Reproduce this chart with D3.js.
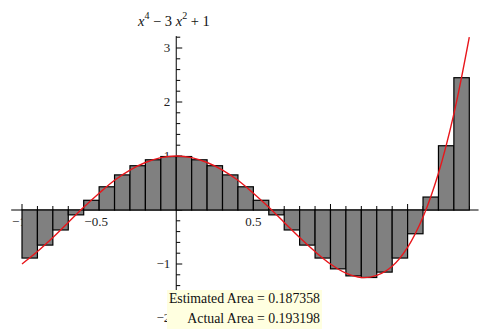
<!DOCTYPE html>
<html>
<head>
<meta charset="utf-8">
<script src="https://cdn.jsdelivr.net/npm/d3@7"></script>
<style>
  body { margin: 0; background: #fff; }
  svg { display: block; }
  text { font-family: "Liberation Serif", "DejaVu Serif", serif; }
</style>
</head>
<body>
<div id="chart"></div>
<script>
// left edge of each rectangle (width 0.1) and its height
const barLeft = [-1, -0.9, -0.8, -0.7, -0.6, -0.5, -0.4, -0.3, -0.2, -0.1,
  0, 0.1, 0.2, 0.3, 0.4, 0.5, 0.6, 0.7, 0.8, 0.9,
  1, 1.1, 1.2, 1.3, 1.4, 1.5, 1.6, 1.7, 1.8];
const barHeight = [-0.89, -0.65, -0.37, -0.09, 0.18, 0.43, 0.65, 0.82, 0.93, 0.99,
  0.99, 0.93, 0.82, 0.65, 0.43, 0.18, -0.09, -0.37, -0.65, -0.89,
  -1.09, -1.22, -1.25, -1.15, -0.89, -0.44, 0.24, 1.19, 2.45];
const barWidth = 0.1;

// red curve sampled along x
const curveX = [-1, -0.9, -0.8, -0.7, -0.6, -0.5, -0.4, -0.3, -0.2, -0.1,
  0, 0.1, 0.2, 0.3, 0.4, 0.5, 0.6, 0.7, 0.8, 0.9,
  1, 1.1, 1.2, 1.3, 1.4, 1.5, 1.6, 1.7, 1.8, 1.9];
const curveY = [-1, -0.77, -0.51, -0.23, 0.05, 0.31, 0.55, 0.74, 0.88, 0.97,
  1, 0.97, 0.88, 0.74, 0.55, 0.31, 0.05, -0.23, -0.51, -0.77,
  -1, -1.17, -1.25, -1.21, -1.04, -0.69, -0.13, 0.68, 1.78, 3.2];

const xTickLabels = [-1, -0.5, 0.5, 1, 1.5];
const yTickLabels = [-2, -1, 1, 2, 3];
const areaLines = ["Estimated Area = 0.187358", "Actual Area = 0.193198"];

const width = 486, height = 329;

const x = d3.scaleLinear().domain([-1, 1.9]).range([22, 469.3]);
const y = d3.scaleLinear().domain([0, 1]).range([210, 156]);

const svg = d3.select('#chart').append('svg')
  .attr('width', width)
  .attr('height', height);

const fmt = d => (d < 0 ? '\u2212' : '') + Math.abs(d);

// tick labels go first so the bars can cover some of them, like the original
svg.append('g').selectAll('text')
  .data(xTickLabels)
  .join('text')
  .attr('x', d => x(d) + (d < 0 ? -3 : 0))
  .attr('y', y(0) + 16)
  .attr('text-anchor', 'middle')
  .attr('font-size', 13)
  .attr('fill', '#222')
  .text(fmt);

svg.append('g').selectAll('text')
  .data(yTickLabels)
  .join('text')
  .attr('x', x(0) - 6)
  .attr('y', d => y(d) + 4)
  .attr('text-anchor', 'end')
  .attr('font-size', 13)
  .attr('fill', '#222')
  .text(fmt);

// axes with Mathematica-style inward ticks
const axes = svg.append('g').attr('stroke', '#000');
axes.append('line')
  .attr('x1', x(-1.07)).attr('x2', x(1.96))
  .attr('y1', y(0)).attr('y2', y(0));
axes.append('line')
  .attr('x1', x(0)).attr('x2', x(0))
  .attr('y1', y(3.22)).attr('y2', y(-2.15));

const xt = d3.range(-10, 20).map(i => i / 10);
axes.selectAll('.xt')
  .data(xt)
  .join('line')
  .attr('x1', d => x(d)).attr('x2', d => x(d))
  .attr('y1', y(0))
  .attr('y2', d => y(0) - (Math.round(d * 10) % 5 === 0 ? 6 : 4));

const yt = d3.range(-10, 17).map(i => i / 5);
axes.selectAll('.yt')
  .data(yt)
  .join('line')
  .attr('x1', x(0))
  .attr('x2', d => x(0) + (Math.round(d * 5) % 5 === 0 ? 6 : 4))
  .attr('y1', d => y(d)).attr('y2', d => y(d));

// rectangles
svg.append('g').selectAll('rect')
  .data(barLeft.map((l, i) => ({ l, h: barHeight[i] })))
  .join('rect')
  .attr('x', d => x(d.l))
  .attr('width', d => x(d.l + barWidth) - x(d.l))
  .attr('y', d => Math.min(y(0), y(d.h)))
  .attr('height', d => Math.abs(y(d.h) - y(0)))
  .attr('fill', '#808080')
  .attr('stroke', '#000')
  .attr('stroke-width', 1.2);

// the function itself
const line = d3.line()
  .x(d => x(d[0]))
  .y(d => y(d[1]))
  .curve(d3.curveCatmullRom);

svg.append('path')
  .datum(curveX.map((v, i) => [v, curveY[i]]))
  .attr('d', line)
  .attr('fill', 'none')
  .attr('stroke', '#e8161b')
  .attr('stroke-width', 1.4);

// axis title
const title = svg.append('text')
  .attr('x', 138)
  .attr('y', 26)
  .attr('font-size', 14.5)
  .attr('fill', '#111');
title.append('tspan').attr('font-style', 'italic').text('x');
title.append('tspan').attr('font-size', 10).attr('dy', -7).text('4');
title.append('tspan').attr('dy', 7).text(' \u2212 3 ');
title.append('tspan').attr('font-style', 'italic').text('x');
title.append('tspan').attr('font-size', 10).attr('dy', -7).text('2');
title.append('tspan').attr('dy', 7).text(' + 1');

// area readout
svg.append('rect')
  .attr('x', 167).attr('y', 290)
  .attr('width', 155).attr('height', 39)
  .attr('fill', '#ffffe0');

svg.append('g').selectAll('text')
  .data(areaLines)
  .join('text')
  .attr('x', 320)
  .attr('y', (d, i) => 303 + i * 20)
  .attr('text-anchor', 'end')
  .attr('font-size', 13.8)
  .attr('fill', '#111')
  .text(d => d);
</script>
</body>
</html>
